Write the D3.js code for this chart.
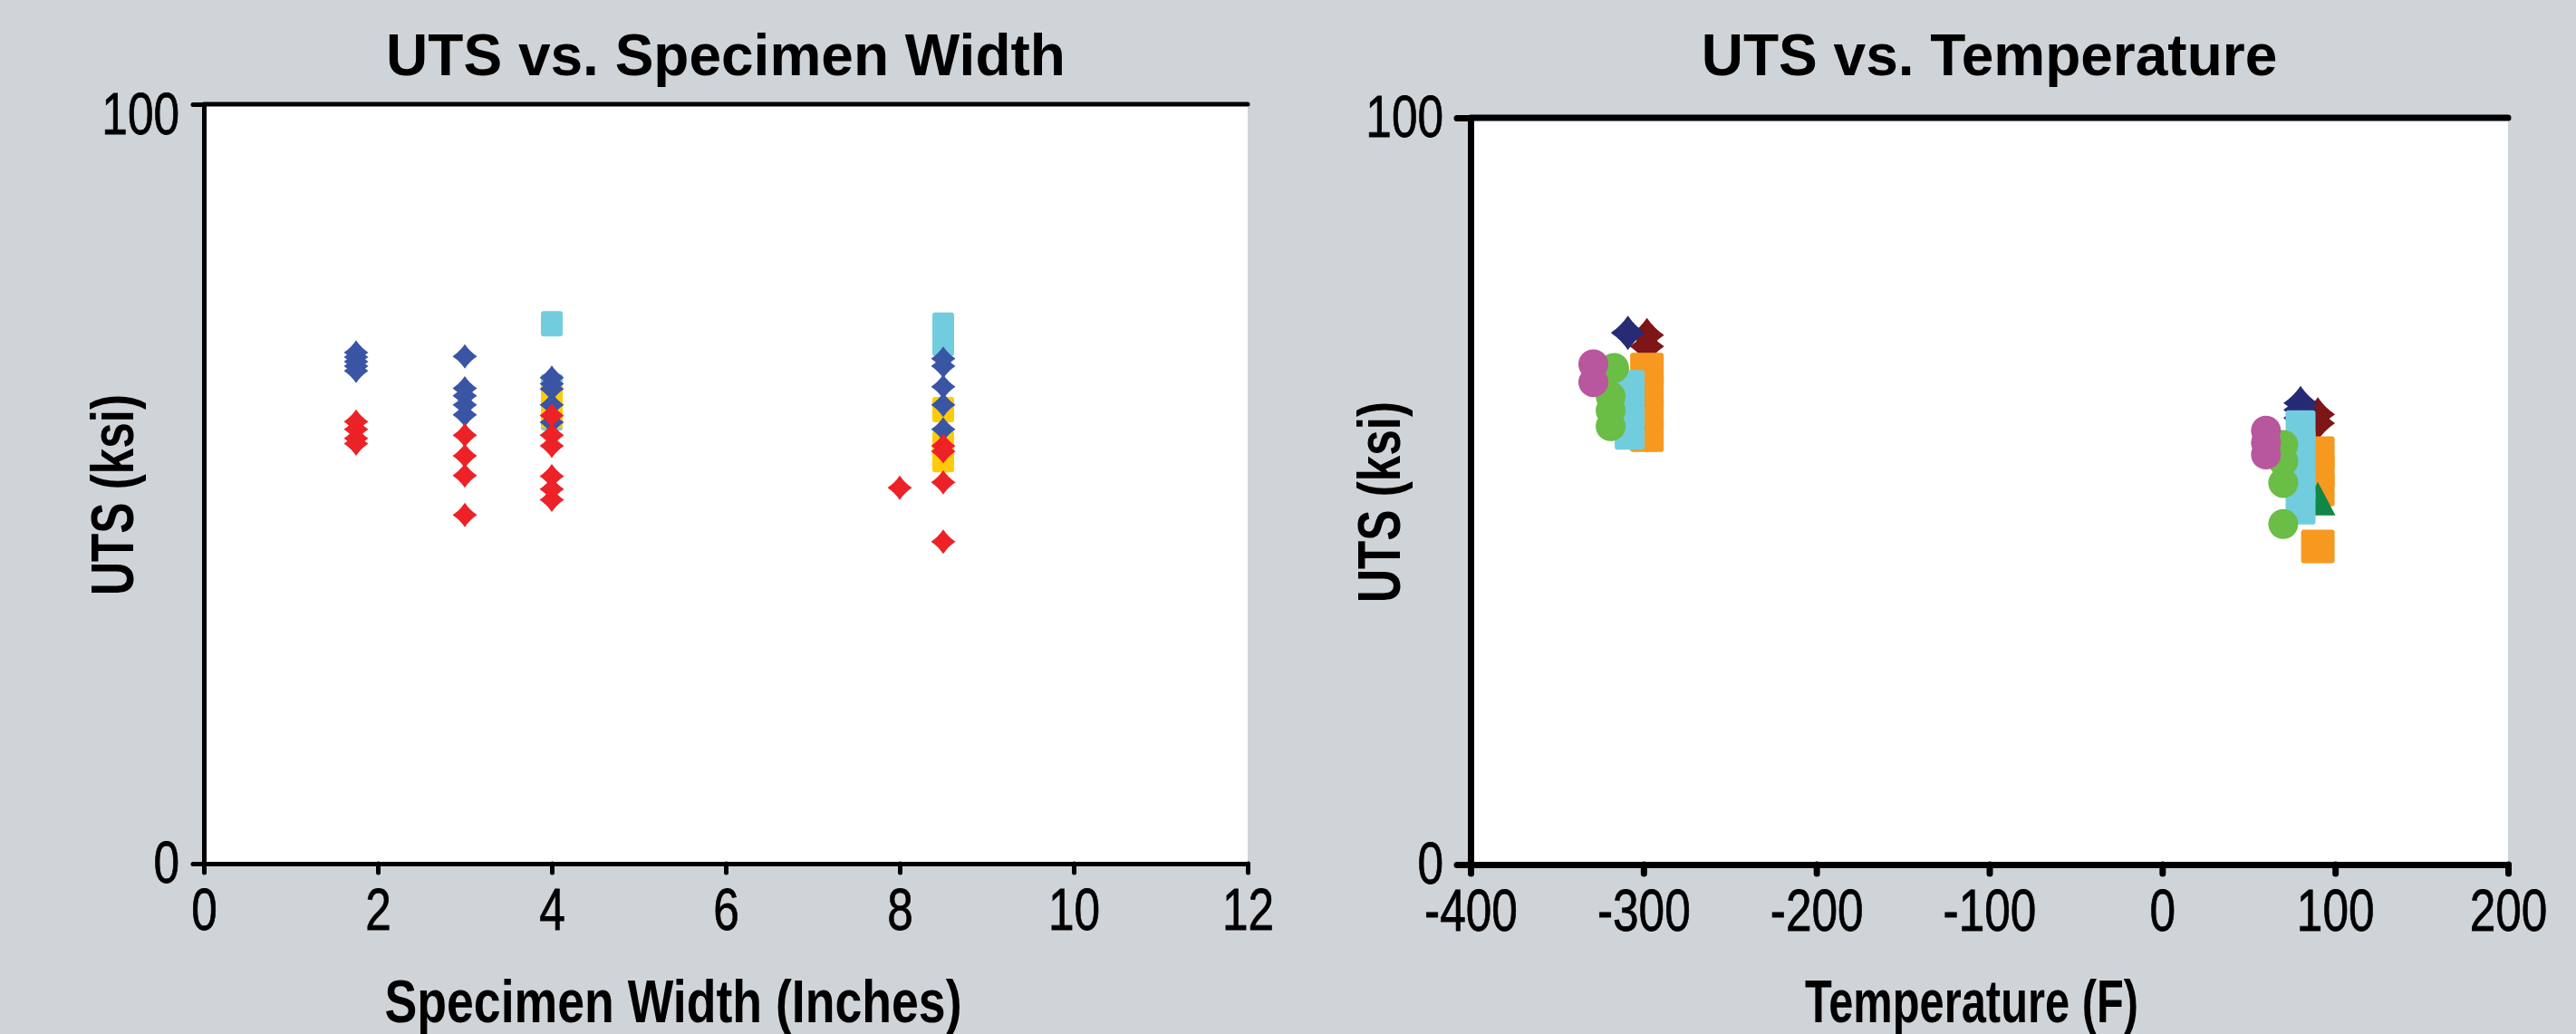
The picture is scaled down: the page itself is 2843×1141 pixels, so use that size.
<!DOCTYPE html>
<html lang="en">
	<head>
		<meta charset="utf-8">
		<title>UTS vs. Specimen Width / Temperature</title>
		<script type="text/javascript" src="https://cdn.jsdelivr.net/npm/d3@7"></script>
		<style type="text/css">
			html, body { margin: 0; padding: 0; background: #CFD4D8; }
			svg { display: block; }
			.tick text { font-family: "Liberation Sans Narrow", "Liberation Sans", Arial, sans-serif; }
		</style>
	</head>
	<body>
		<script type="text/javascript">

			//Width and height
			var w = 2843;
			var h = 1141;

			//Left chart: [width (in), UTS (ksi)]
			var widthBlue = [
				[1.75, 67.3], [1.75, 66.7], [1.75, 66.1], [1.75, 65.5], [1.75, 64.9],
				[3, 66.8], [3, 62.6], [3, 61.6], [3, 60.4], [3, 59.1],
				[4, 64.0], [4, 63.2], [4, 62.5], [4, 60.4], [4, 58.1],
				[8.5, 66.5], [8.5, 65.5], [8.5, 62.8], [8.5, 60.4], [8.5, 57.2]
			];
			var widthRed = [
				[1.75, 58.2], [1.75, 57.2], [1.75, 56.0], [1.75, 55.3],
				[3, 56.4], [3, 53.7], [3, 51.1], [3, 45.9],
				[4, 59.0], [4, 56.4], [4, 55.0], [4, 51.0], [4, 49.3], [4, 47.9],
				[8, 49.5],
				[8.5, 55.0], [8.5, 54.3], [8.5, 50.2], [8.5, 42.4]
			];
			var widthCyan = [[4, 71.1], [4, 62.8], [4, 60.5], [4, 58.7], [8.5, 70.9], [8.5, 68.5]];
			var widthYellow = [[4, 61.5], [4, 59.0], [8.5, 59.8], [8.5, 55.3], [8.5, 53.2]];
			var widthTicks = [0, 2, 4, 6, 8, 10, 12];

			//Right chart: [temperature (F), UTS (ksi)]
			var tempDarkRed = [[-298, 70.9], [-298, 69.4], [90, 60.3], [90, 59.1]];
			var tempOrange = [
				[-298, 66.3], [-298, 63.5], [-298, 60.5], [-298, 57.5],
				[90, 55.1], [90, 52.6], [90, 50.2], [90, 42.6]
			];
			var tempTriangle = [[90, 49.0]];
			var tempNavy = [[-309, 71.2], [-309, 63.3], [-309, 61.5], [-309, 58.5], [80, 61.8], [80, 60.9], [80, 59.8]];
			var tempCyan = [
				[-308, 64.0], [-308, 61.0], [-308, 57.8],
				[80, 58.6], [80, 56.0], [80, 53.5], [80, 51.0], [80, 47.8]
			];
			var tempGreen = [
				[-317, 66.5], [-319, 62.7], [-319, 60.8], [-319, 58.7],
				[70, 56.2], [70, 54.0], [70, 51.1], [70, 45.6]
			];
			var tempMagenta = [[-329, 67.0], [-329, 64.6], [60, 58.1], [60, 56.5], [60, 54.9]];
			var tempTicks = [-400, -300, -200, -100, 0, 100, 200];

			var utsTicks = [0, 100];

			//Diamond with slightly pinched sides, like the spreadsheet marker
			var pinchedDiamond = {
				draw: function(context, size) {
					var r = Math.sqrt(size) / 2;
					var k = 0.4 * r;
					context.moveTo(0, -r);
					context.quadraticCurveTo(k, -k, r, 0);
					context.quadraticCurveTo(k, k, 0, r);
					context.quadraticCurveTo(-k, k, -r, 0);
					context.quadraticCurveTo(-k, -k, 0, -r);
					context.closePath();
				}
			};
			var triangleUp = {
				draw: function(context, size) {
					var r = Math.sqrt(size) / 2;
					context.moveTo(0, -r);
					context.lineTo(r * 1.05, r);
					context.lineTo(-r * 1.05, r);
					context.closePath();
				}
			};

			//Create SVG element
			var svg = d3.select("body")
						.append("svg")
						.attr("width", w)
						.attr("height", h);

			svg.append("rect")
				.attr("width", w)
				.attr("height", h)
				.attr("fill", "#CFD4D8");

			//plain hyphen for negatives, as in the original
			var plainFormat = function(d) { return String(d); };

			//Draws the frame, axes and titles of one chart, returns the scales
			function panel(o) {
				var x = d3.scaleLinear().domain(o.xDomain).range([o.left, o.right]);
				var y = d3.scaleLinear().domain([0, 100]).range([o.bottom, o.top]);
				var g = svg.append("g");

				g.append("rect")
					.attr("x", o.left)
					.attr("y", o.top)
					.attr("width", o.right - o.left)
					.attr("height", o.bottom - o.top)
					.attr("fill", "#ffffff");

				//top border
				g.append("line")
					.attr("x1", o.left)
					.attr("x2", o.right)
					.attr("y1", o.top)
					.attr("y2", o.top)
					.attr("stroke", "#000")
					.attr("stroke-width", o.topStroke)
					.attr("stroke-linecap", "round");

				var xAxis = g.append("g")
					.attr("transform", "translate(0," + o.bottom + ")")
					.call(d3.axisBottom(x).tickValues(o.xTicks).tickFormat(plainFormat)
						.tickSize(10).tickSizeOuter(0).tickPadding(17));

				var yAxis = g.append("g")
					.attr("transform", "translate(" + o.left + ",0)")
					.call(d3.axisLeft(y).tickValues(utsTicks).tickFormat(plainFormat)
						.tickSize(o.yTickSize).tickSizeOuter(0).tickPadding(15));

				[xAxis, yAxis].forEach(function(a) {
					a.select(".domain")
						.attr("stroke", "#000")
						.attr("stroke-width", o.axisStroke)
						.attr("stroke-linecap", "round");
					a.selectAll(".tick line")
						.attr("stroke", "#000")
						.attr("stroke-width", o.axisStroke)
						.attr("stroke-linecap", "round");
					a.selectAll(".tick text")
						.attr("fill", "#000")
						.attr("stroke", "#000")
						.attr("stroke-width", 0.8)
						.style("font-size", "65px")
						.each(function() {
							//condensed look of the original tick font
							var len = this.getComputedTextLength();
							d3.select(this)
								.attr("textLength", len * 0.79)
								.attr("lengthAdjust", "spacingAndGlyphs");
						});
				});

				//the "100" label sits a little lower than its tick
				yAxis.selectAll(".tick text")
					.attr("y", function(d) { return d === 100 ? o.topLabelShift : 0; });

				g.append("text")
					.attr("x", (o.left + o.right) / 2)
					.attr("y", 83)
					.attr("text-anchor", "middle")
					.style("font-family", "'Liberation Sans', Arial, sans-serif")
					.style("font-weight", "bold")
					.style("font-size", "64px")
					.text(o.title);

				g.append("text")
					.attr("x", o.xTitleX)
					.attr("y", 1128)
					.attr("text-anchor", "middle")
					.attr("textLength", o.xTitleLen)
					.attr("lengthAdjust", "spacingAndGlyphs")
					.style("font-family", "'Liberation Sans Narrow', 'Liberation Sans', Arial, sans-serif")
					.style("font-weight", "bold")
					.style("font-size", "66px")
					.text(o.xTitle);

				g.append("text")
					.attr("transform", "translate(" + (o.left - 78) + "," + ((o.top + o.bottom) / 2 + 12) + ") rotate(-90)")
					.attr("text-anchor", "middle")
					.attr("textLength", 222)
					.attr("lengthAdjust", "spacingAndGlyphs")
					.style("font-family", "'Liberation Sans Narrow', 'Liberation Sans', Arial, sans-serif")
					.style("font-weight", "bold")
					.style("font-size", "66px")
					.text("UTS (ksi)");

				return { x: x, y: y, g: g };
			}

			function symbols(p, data, type, size, color) {
				p.g.append("g")
					.selectAll("path")
					.data(data)
					.enter()
					.append("path")
					.attr("d", d3.symbol().type(type).size(size))
					.attr("transform", function(d) { return "translate(" + p.x(d[0]) + "," + p.y(d[1]) + ")"; })
					.attr("fill", color);
			}

			function squares(p, data, sw, sh, color) {
				p.g.append("g")
					.selectAll("rect")
					.data(data)
					.enter()
					.append("rect")
					.attr("x", function(d) { return p.x(d[0]) - sw / 2; })
					.attr("y", function(d) { return p.y(d[1]) - sh / 2; })
					.attr("width", sw)
					.attr("height", sh)
					.attr("rx", 3)
					.attr("fill", color);
			}

			function circles(p, data, r, color) {
				p.g.append("g")
					.selectAll("circle")
					.data(data)
					.enter()
					.append("circle")
					.attr("cx", function(d) { return p.x(d[0]); })
					.attr("cy", function(d) { return p.y(d[1]); })
					.attr("r", r)
					.attr("fill", color);
			}

			//Left chart
			var left = panel({
				xDomain: [0, 12], xTicks: widthTicks,
				left: 225, right: 1377, top: 115, bottom: 953,
				topStroke: 5, axisStroke: 5, yTickSize: 12, topLabelShift: 12,
				title: "UTS vs. Specimen Width",
				xTitle: "Specimen Width (Inches)", xTitleX: 743, xTitleLen: 637
			});

			squares(left, widthCyan, 24, 28, "#71CDDD");
			squares(left, widthYellow, 24, 28, "#FFCB08");
			symbols(left, widthBlue, pinchedDiamond, 27 * 27, "#3A55A4");
			symbols(left, widthRed, pinchedDiamond, 27 * 27, "#EC2227");

			//Right chart
			var right = panel({
				xDomain: [-400, 200], xTicks: tempTicks,
				left: 1623, right: 2768, top: 130, bottom: 954,
				topStroke: 7, axisStroke: 7, yTickSize: 15, topLabelShift: 0,
				title: "UTS vs. Temperature",
				xTitle: "Temperature (F)", xTitleX: 2176, xTitleLen: 368
			});

			symbols(right, tempDarkRed, pinchedDiamond, 38 * 38, "#7E1517");
			squares(right, tempOrange, 37, 37, "#F7981F");
			symbols(right, tempTriangle, triangleUp, 37 * 37, "#118647");
			symbols(right, tempNavy, pinchedDiamond, 38 * 38, "#272A74");
			squares(right, tempCyan, 33, 37, "#71CDDD");
			circles(right, tempGreen, 16.5, "#6ABD45");
			circles(right, tempMagenta, 16.5, "#B8569E");

		</script>
	</body>
</html>
